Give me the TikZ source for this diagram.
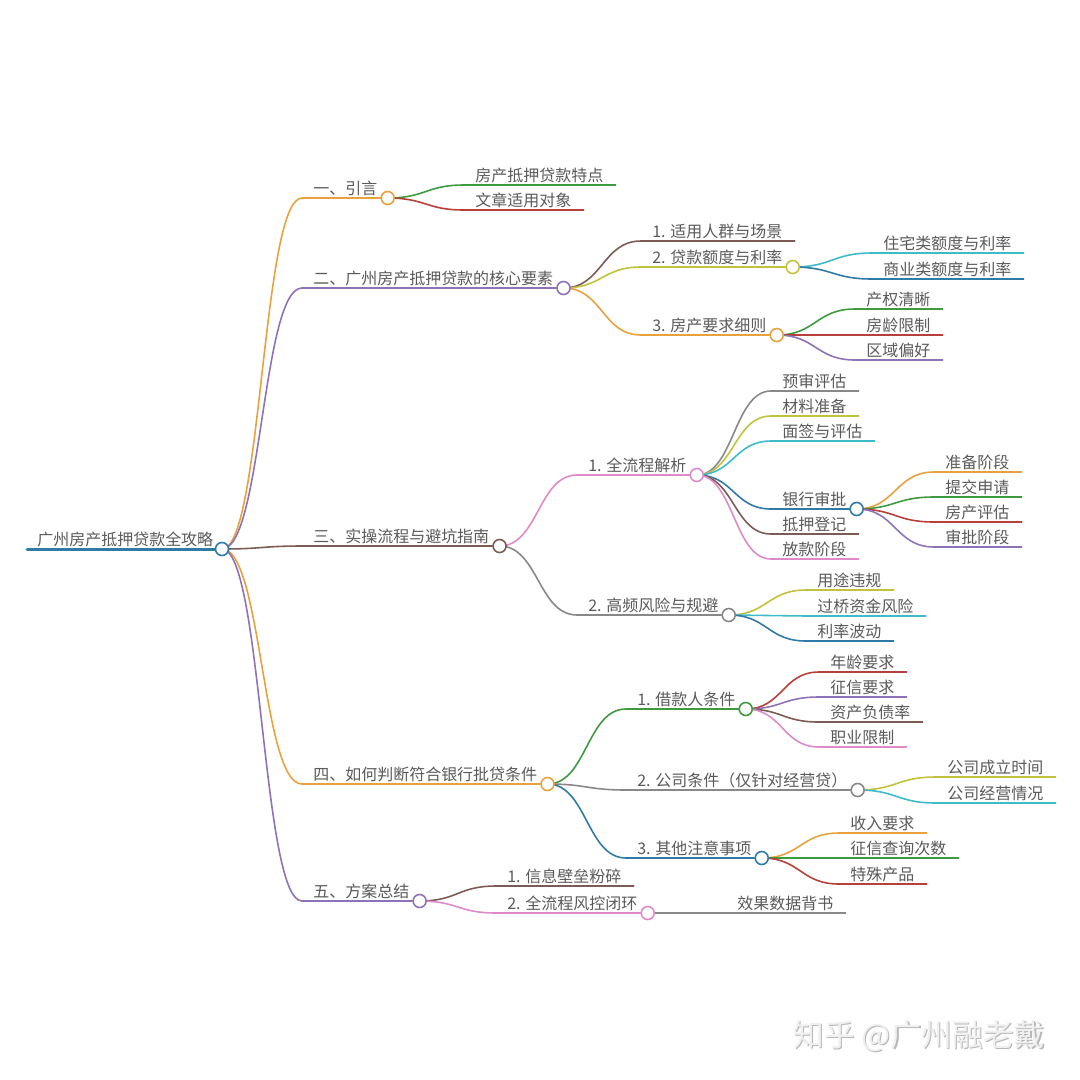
\documentclass[tikz,border=0pt]{standalone}
\usepackage{fontspec}
\setmainfont{Noto Sans CJK SC}
\usetikzlibrary{calc,backgrounds}

\definecolor{cBlue}{HTML}{2E7BA8}
\definecolor{cOrange}{HTML}{E9A23B}
\definecolor{cGreen}{HTML}{3E9A3E}
\definecolor{cRed}{HTML}{B8403A}
\definecolor{cPurple}{HTML}{8E72B8}
\definecolor{cBrown}{HTML}{7E5A55}
\definecolor{cPink}{HTML}{DE8AC8}
\definecolor{cGray}{HTML}{888888}
\definecolor{cOlive}{HTML}{C2C23A}
\definecolor{cCyan}{HTML}{3CBCCB}
\definecolor{cText}{HTML}{5A5A5A}

\tikzset{
  lbl/.style={anchor=base west, inner sep=0pt, font=\fontsize{9.1pt}{11pt}\selectfont, text=cText},
  edge/.style={line width=0.9pt, line cap=round},
  dot/.style={circle, draw=#1, fill=white, line width=0.9pt, minimum size=0.26cm, inner sep=0pt},
  wmark/.style={anchor=base west, inner sep=0pt, font=\fontsize{17.5pt}{20pt}\selectfont},
}

% curved link: parent circle -> start of child underline
\newcommand{\mmlink}[3]{%
  \draw[edge,#3] let \p1=(#1), \p2=(#2) in
    (\p1) .. controls ({(\x1+\x2)/2},\y1) and ({(\x1+\x2)/2},\y2) .. (\p2);}

% leaf: name, parent, text x, line y, colour, text
\newcommand{\mmleaf}[6]{%
  \node[lbl] (#1-t) at (#3,#4-4) {#6};
  \coordinate (#1-s) at (#3-11,#4);
  \coordinate (#1) at ($(#1-t.base east)+(12,4)$);
  \begin{pgfonlayer}{background}
    \draw[edge,#5] (#1-s) -- (#1);
    \mmlink{#2}{#1-s}{#5}
  \end{pgfonlayer}}

% branch: same, ends in a circle
\newcommand{\mmfork}[6]{%
  \node[lbl] (#1-t) at (#3,#4-4) {#6};
  \coordinate (#1-s) at (#3-11,#4);
  \node[dot=#5] (#1) at ($(#1-t.base east)+(10,4)$) {};
  \begin{pgfonlayer}{background}
    \draw[edge,#5] (#1-s) -- (#1);
    \mmlink{#2}{#1-s}{#5}
  \end{pgfonlayer}}

\begin{document}
\begin{tikzpicture}[x=0.02cm, y=-0.02cm]

\begin{pgfonlayer}{background}
  \fill[white] (0,0) rectangle (1080,1080);
\end{pgfonlayer}
\useasboundingbox (0,0) rectangle (1080,1080);

% ── Root ──
\node[lbl] (root-t) at (37,545) {广州房产抵押贷款全攻略};
\coordinate (root-s) at (27,549);
\node[dot=cBlue] (root) at (222,549) {};
\begin{pgfonlayer}{background}
  \draw[edge, cBlue, line width=1.7pt] (root-s) -- (root);
\end{pgfonlayer}

% ── 一 ──
\mmfork{a}{root}{313}{198}{cOrange}{一、引言}
\mmleaf{a1}{a}{475}{185}{cGreen}{房产抵押贷款特点}
\mmleaf{a2}{a}{475}{210}{cRed}{文章适用对象}

% ── 二 ──
\mmfork{b}{root}{313}{288}{cPurple}{二、广州房产抵押贷款的核心要素}
\mmleaf{b1}{b}{652}{241}{cBrown}{1. 适用人群与场景}
\mmfork{b2}{b}{652}{267}{cOlive}{2. 贷款额度与利率}
\mmfork{b3}{b}{652}{335}{cOrange}{3. 房产要求细则}
\mmleaf{b21}{b2}{883}{253}{cCyan}{住宅类额度与利率}
\mmleaf{b22}{b2}{883}{279}{cBlue}{商业类额度与利率}
\mmleaf{b31}{b3}{866}{309}{cGreen}{产权清晰}
\mmleaf{b32}{b3}{866}{335}{cRed}{房龄限制}
\mmleaf{b33}{b3}{866}{360}{cPurple}{区域偏好}

% ── 三 ──
\mmfork{c}{root}{313}{546}{cBrown}{三、实操流程与避坑指南}
\mmfork{c1}{c}{588}{475}{cPink}{1. 全流程解析}
\mmfork{c2}{c}{588}{615}{cGray}{2. 高频风险与规避}
\mmleaf{c11}{c1}{782}{391}{cGray}{预审评估}
\mmleaf{c12}{c1}{782}{416}{cOlive}{材料准备}
\mmleaf{c13}{c1}{782}{441}{cCyan}{面签与评估}
\mmfork{c14}{c1}{782}{509}{cBlue}{银行审批}
\mmleaf{c15}{c1}{782}{534}{cBrown}{抵押登记}
\mmleaf{c16}{c1}{782}{559}{cPink}{放款阶段}
\mmleaf{c141}{c14}{945}{472}{cOrange}{准备阶段}
\mmleaf{c142}{c14}{945}{497}{cGreen}{提交申请}
\mmleaf{c143}{c14}{945}{522}{cRed}{房产评估}
\mmleaf{c144}{c14}{945}{547}{cPurple}{审批阶段}
\mmleaf{c21}{c2}{817}{590}{cOlive}{用途违规}
\mmleaf{c22}{c2}{817}{616}{cCyan}{过桥资金风险}
\mmleaf{c23}{c2}{817}{641}{cBlue}{利率波动}

% ── 四 ──
\mmfork{d}{root}{313}{784}{cOrange}{四、如何判断符合银行批贷条件}
\mmfork{d1}{d}{637}{709}{cGreen}{1. 借款人条件}
\mmfork{d2}{d}{637}{790}{cGray}{2. 公司条件（仅针对经营贷）}
\mmfork{d3}{d}{637}{858}{cBlue}{3. 其他注意事项}
\mmleaf{d11}{d1}{830}{672}{cRed}{年龄要求}
\mmleaf{d12}{d1}{830}{697}{cPurple}{征信要求}
\mmleaf{d13}{d1}{830}{722}{cBrown}{资产负债率}
\mmleaf{d14}{d1}{830}{747}{cPink}{职业限制}
\mmleaf{d21}{d2}{947}{777}{cOlive}{公司成立时间}
\mmleaf{d22}{d2}{947}{803}{cCyan}{公司经营情况}
\mmleaf{d31}{d3}{850}{833}{cOrange}{收入要求}
\mmleaf{d32}{d3}{850}{858}{cGreen}{征信查询次数}
\mmleaf{d33}{d3}{850}{884}{cRed}{特殊产品}

% ── 五 ──
\mmfork{e}{root}{313}{901}{cPurple}{五、方案总结}
\mmleaf{e1}{e}{507}{886}{cBrown}{1. 信息壁垒粉碎}
\mmfork{e2}{e}{507}{913}{cPink}{2. 全流程风控闭环}
\mmleaf{e21}{e2}{737}{913}{cGray}{效果数据背书}

% ── Watermark ──
\node[wmark, text=black!28] (wm-shadow) at (794.2,1047.2) {知乎 @广州融老戴};
\node[wmark, text=black!6] (wm) at (793,1046) {知乎 @广州融老戴};

\end{tikzpicture}
\end{document}
